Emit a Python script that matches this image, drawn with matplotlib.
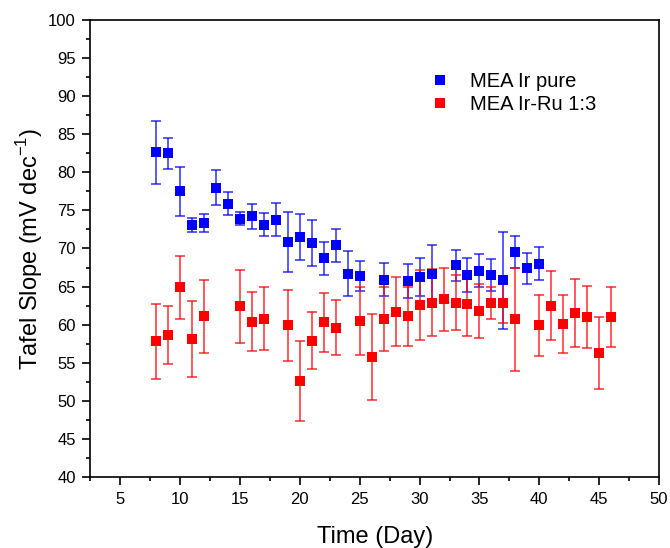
import matplotlib
matplotlib.use("Agg")
import matplotlib.pyplot as plt
from matplotlib.ticker import MultipleLocator

plt.rcParams['font.family'] = ['Liberation Sans', 'DejaVu Sans']
plt.rcParams['mathtext.fontset'] = 'custom'
plt.rcParams['mathtext.rm'] = 'Liberation Sans'

# MEA Ir pure (blue)
days_ir = [8, 9, 10, 11, 12, 13, 14, 15, 16, 17, 18, 19, 20, 21, 22, 23, 24, 25,
           27, 29, 30, 31, 33, 34, 35, 36, 37, 38, 39, 40]
slope_ir = [82.6, 82.5, 77.5, 73.1, 73.3, 78.0, 75.9, 73.9, 74.2, 73.1, 73.8, 70.9,
            71.5, 70.7, 68.7, 70.4, 66.7, 66.4, 65.9, 65.7, 66.2, 66.7, 67.8, 66.5,
            67.1, 66.5, 65.8, 69.6, 67.4, 68.0]
err_ir = [4.1, 2.05, 3.2, 0.9, 1.2, 2.3, 1.45, 0.85, 1.6, 1.5, 2.2, 3.95,
          3.05, 3.0, 2.2, 2.15, 3.0, 2.0, 2.15, 2.2, 2.5, 3.7, 2.05, 2.2,
          2.2, 2.1, 6.4, 2.1, 2.05, 2.15]

# MEA Ir-Ru 1:3 (red)
days_irru = [8, 9, 10, 11, 12, 15, 16, 17, 19, 20, 21, 22, 23, 25, 26, 27, 28, 29,
             30, 31, 32, 33, 34, 35, 36, 37, 38, 40, 41, 42, 43, 44, 45, 46]
slope_irru = [57.8, 58.6, 64.9, 58.1, 61.1, 62.4, 60.4, 60.8, 59.9, 52.6, 57.9, 60.3,
              59.6, 60.5, 55.7, 60.7, 61.7, 61.1, 62.6, 62.9, 63.3, 62.9, 62.7, 61.8,
              62.8, 62.9, 60.7, 59.9, 62.5, 60.1, 61.5, 61.0, 56.3, 61.0]
err_irru = [4.9, 3.8, 4.1, 5.0, 4.8, 4.75, 3.9, 4.1, 4.7, 5.25, 3.7, 3.9,
            3.6, 4.5, 5.65, 4.2, 4.55, 3.9, 4.6, 4.4, 4.15, 3.65, 4.2, 3.6,
            2.1, 2.7, 6.8, 4.0, 4.5, 3.8, 4.45, 4.1, 4.7, 3.9]

labels = ['MEA Ir pure', 'MEA Ir-Ru 1:3']
colors = ['#0000ff', '#ff0000']

fig = plt.figure(figsize=(6.7, 5.48), dpi=100)
ax = fig.add_axes([0.135, 0.1296, 0.8486, 0.834])

for d, s, e, c, lab in [(days_ir, slope_ir, err_ir, colors[0], labels[0]),
                        (days_irru, slope_irru, err_irru, colors[1], labels[1])]:
    ax.errorbar(d, s, yerr=e, fmt='none', ecolor=c, elinewidth=1.4,
                capsize=3.3, capthick=1.4, alpha=0.65, zorder=2)
    ax.plot(d, s, linestyle='none', marker='s', markersize=7.4, color=c,
            markeredgewidth=0, label=lab, zorder=3)

ax.set_xlim(2.5, 50)
ax.set_ylim(40, 100)
ax.xaxis.set_major_locator(MultipleLocator(5))
ax.xaxis.set_minor_locator(MultipleLocator(2.5))
ax.yaxis.set_major_locator(MultipleLocator(5))
ax.yaxis.set_minor_locator(MultipleLocator(2.5))
ax.tick_params(which='both', direction='out', top=False, right=False,
               labelsize=12, width=1.2, pad=5)
ax.tick_params(which='major', length=5.5)
ax.tick_params(which='minor', length=3.2)
for sp in ax.spines.values():
    sp.set_linewidth(1.2)

ax.set_xlabel('Time (Day)', fontsize=17, labelpad=14)
ax.set_ylabel(r'Tafel Slope (mV dec$^{\mathregular{-1}}$)', fontsize=17, labelpad=2.5)

leg = ax.legend(loc='upper left', bbox_to_anchor=(0.565, 0.925), frameon=False,
                fontsize=14.5, handlelength=1.0, handletextpad=1.0,
                labelspacing=0.2, markerscale=1.0)

fig.savefig('out.png', dpi=100)
